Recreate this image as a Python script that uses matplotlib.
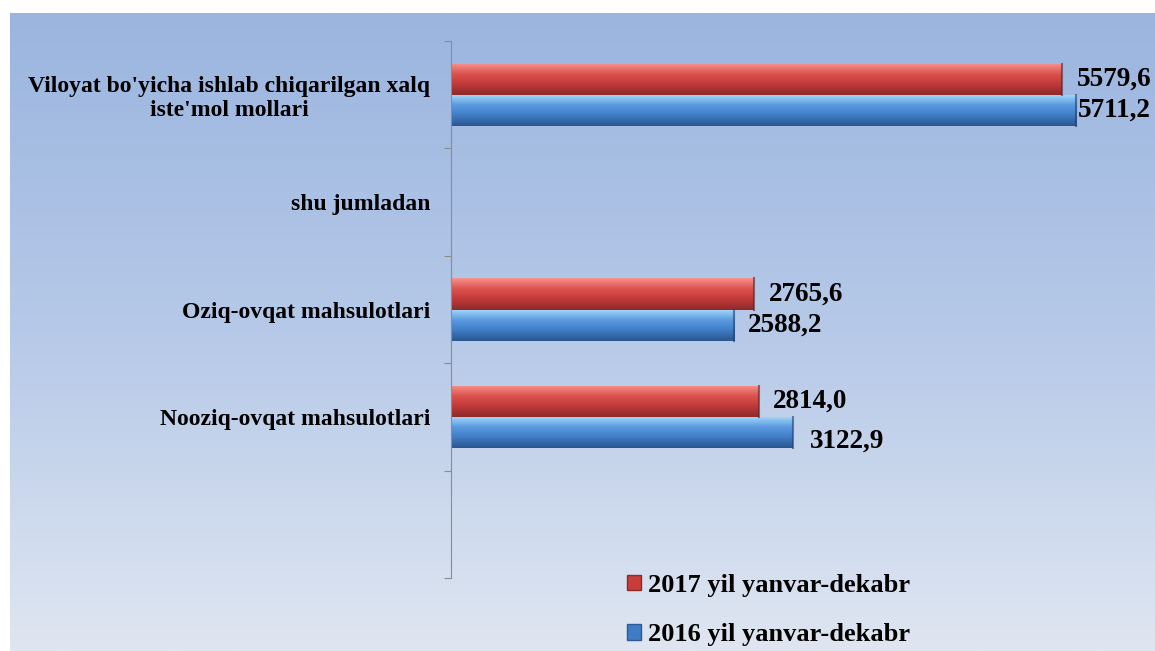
import numpy as np
import matplotlib.pyplot as plt
from matplotlib.colors import LinearSegmentedColormap
from matplotlib.patches import Patch

# Ma'lumotlar
kategoriyalar = ["Viloyat bo'yicha ishlab chiqarilgan xalq\niste'mol mollari",
                 "shu jumladan",
                 "Oziq-ovqat mahsulotlari",
                 "Nooziq-ovqat mahsulotlari",
                 ""]
qiymat_2017 = [5579.6, None, 2765.6, 2814.0, None]
qiymat_2016 = [5711.2, None, 2588.2, 3122.9, None]
yorliq_2017 = ["5579,6", "", "2765,6", "2814,0", ""]
yorliq_2016 = ["5711,2", "", "2588,2", "3122,9", ""]
seriya_nomlari = ["2017 yil yanvar-dekabr", "2016 yil yanvar-dekabr"]

plt.rcParams['font.family'] = ['Liberation Serif', 'DejaVu Serif']
plt.rcParams['font.weight'] = 'bold'

fig = plt.figure(figsize=(11.55, 6.51), dpi=100)

# Fon gradienti
bg = fig.add_axes([10 / 1155, 0, 1 - 10 / 1155, (651 - 13) / 651])
bg_cmap = LinearSegmentedColormap.from_list('bg', ['#9bb5df', '#b6c9e8', '#dfe6f1'])
bg.imshow(np.linspace(0, 1, 256).reshape(-1, 1), aspect='auto', cmap=bg_cmap,
          extent=[0, 1, 0, 1], origin='upper')
bg.axis('off')

ax = fig.add_axes([451 / 1155, 1 - 578 / 651, 1 - 451 / 1155, (578 - 41) / 651])
ax.patch.set_alpha(0)

qizil = LinearSegmentedColormap.from_list('q', ['#f7928e', '#dc524e', '#c0393a', '#8e2a2a'])
kok = LinearSegmentedColormap.from_list('k', ['#a6d8fc', '#5b9be0', '#3f7cc4', '#2a5690'])

h = 0.29
y = np.arange(len(kategoriyalar))
grad = np.linspace(0, 1, 64).reshape(-1, 1)


def gradient_bar(ax, yc, val, cmap, edge):
    bar = ax.barh(yc, val, height=h, color='none', edgecolor='none')[0]
    im = ax.imshow(grad, aspect='auto', cmap=cmap,
                   extent=[0, val, yc + h / 2, yc - h / 2], origin='upper', zorder=2)
    im.set_clip_path(bar)
    ax.plot([val, val], [yc - h / 2, yc + h / 2], color=edge, lw=1.5, alpha=0.6, zorder=3)


# yorliqlar uchun siljishlar (piksel)
sil_2017 = [(11, 0), None, (11, 0), (10, 0), None]
sil_2016 = [(1, 0), None, (10, 0), (12, -6), None]

for i in range(len(kategoriyalar)):
    if qiymat_2017[i] is not None:
        gradient_bar(ax, y[i] - h / 2, qiymat_2017[i], qizil, '#5a2020')
        ax.annotate(yorliq_2017[i], (qiymat_2017[i], y[i] - h / 2), xytext=sil_2017[i],
                    textcoords='offset points', va='center', ha='left', fontsize=19.5,
                    fontweight='bold')
    if qiymat_2016[i] is not None:
        gradient_bar(ax, y[i] + h / 2, qiymat_2016[i], kok, '#1f3f6e')
        ax.annotate(yorliq_2016[i], (qiymat_2016[i], y[i] + h / 2), xytext=sil_2016[i],
                    textcoords='offset points', va='center', ha='left', fontsize=19.5,
                    fontweight='bold')

ax.set_xlim(0, 6432)
ax.set_ylim(len(kategoriyalar) - 0.5, -0.5)

for s in ['top', 'right', 'bottom']:
    ax.spines[s].set_visible(False)
ax.spines['left'].set_color('#8c8c8c')
ax.set_xticks([])

ax.set_yticks(np.arange(-0.5, len(kategoriyalar)))
ax.set_yticklabels([])
ax.tick_params(axis='y', which='major', length=5, color='#8c8c8c')
ax.set_yticks(y, minor=True)
ax.set_yticklabels(kategoriyalar, minor=True, fontsize=17, fontweight='bold',
                   multialignment='center', linespacing=1.15)
ax.tick_params(axis='y', which='minor', length=0, pad=15)

# Legenda
handles = [Patch(facecolor='#c83c3a', edgecolor='#8a2a2a'),
           Patch(facecolor='#3f7cc4', edgecolor='#2c5a96')]
fig.legend(handles, seriya_nomlari, loc='center left', bbox_to_anchor=(627 / 1155, 1 - 610 / 651),
           frameon=False, fontsize=19, handlelength=0.53, handleheight=0.53, handletextpad=0.27,
           labelspacing=1.0, borderpad=0, borderaxespad=0)

fig.savefig('out.png', dpi=100)
